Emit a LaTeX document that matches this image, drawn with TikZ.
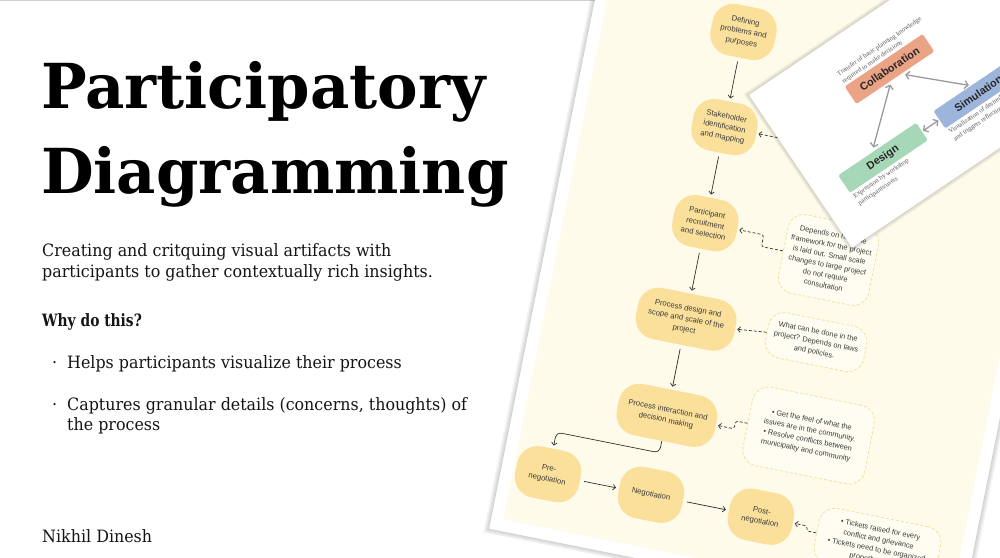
\documentclass[tikz,border=0pt]{standalone}
\usepackage{fontspec}
\setmainfont{DejaVu Serif}
\newfontfamily\dsf{Liberation Sans}
\newfontfamily\dserif{Liberation Serif}
\usetikzlibrary{arrows.meta}
\definecolor{nodey}{HTML}{FBE09B}
\definecolor{cream}{HTML}{FEFBEA}
\definecolor{notef}{HTML}{FFFDF1}
\definecolor{noteb}{HTML}{EDE3A2}
\definecolor{dtext}{HTML}{3A3A3A}
\definecolor{arrowc}{HTML}{2E2E2E}
\definecolor{collabc}{HTML}{EBA386}
\definecolor{simc}{HTML}{9DB5DA}
\definecolor{designc}{HTML}{A6D7B6}
\definecolor{grayarrow}{HTML}{9B9B9B}
\definecolor{desctext}{HTML}{555555}
\definecolor{slidetext}{HTML}{151515}
\tikzset{
  slidetxt/.style={anchor=base west, inner sep=0pt, text=slidetext},
  bodytxt/.style={slidetxt, font=\fontsize{17}{20}\selectfont, xscale=0.935},
  titletxt/.style={slidetxt, text=black, font=\bfseries\fontsize{62}{62}\selectfont, xscale=0.98},
  stepnode/.style={fill=nodey, rounded corners=21pt, minimum width=65pt, minimum height=52pt,
    inner sep=2pt, align=center, text=dtext, font=\dsf\fontsize{7.7}{10.6}\selectfont},
  widenode/.style={stepnode, minimum width=100pt},
  notebox/.style={draw=noteb, fill=notef, dash pattern=on 3pt off 2pt, line width=0.8pt,
    rounded corners=16pt, inner sep=2pt, align=center, text=dtext, font=\dsf\fontsize{7.4}{10.3}\selectfont},
  flow/.style={draw=arrowc, line width=0.7pt, shorten <=4pt, shorten >=3pt,
    -{Straight Barb[length=2.6pt,width=5.5pt]}},
  dflow/.style={flow, shorten <=0pt, shorten >=2pt, dash pattern=on 3pt off 2pt, rounded corners=2.5pt},
  cardbox/.style={minimum width=94pt, minimum height=21pt, inner sep=0pt, rounded corners=1.5pt,
    font=\dsf\bfseries\fontsize{10.8}{11}\selectfont},
  desc/.style={inner sep=0pt, align=left, text=desctext, font=\dserif\fontsize{6.6}{8.8}\selectfont},
  garrow/.style={draw=grayarrow, line width=1.3pt,
    {Straight Barb[length=3.4pt,width=8pt]}-{Straight Barb[length=3.4pt,width=8pt]}},
}
\begin{document}
\begin{tikzpicture}[x=1pt,y=-1pt]
\useasboundingbox (0,0) rectangle (1000,557);
\clip (0,0) rectangle (1000,557);
\fill[white] (0,0) rectangle (1000,557);
\draw[black!18, line width=1.2pt] (0,0.8) -- (1000,0.8);

% ---------- slide text ----------
\node[titletxt] (title1) at (41,108) {Participatory};
\node[titletxt] (title2) at (41,193) {Diagramming};
\node[bodytxt] (sub1) at (42,256) {Creating and critquing visual artifacts with};
\node[bodytxt] (sub2) at (42,277) {participants to gather contextually rich insights.};
\node[bodytxt, font=\bfseries\fontsize{17}{20}\selectfont, xscale=0.87] (why) at (42,326) {Why do this?};
\node[bodytxt] (dot1) at (52,368) {·};
\node[bodytxt] (b1) at (67,368) {Helps participants visualize their process};
\node[bodytxt] (dot2) at (52,410) {·};
\node[bodytxt] (b2a) at (67,410) {Captures granular details (concerns, thoughts) of};
\node[bodytxt] (b2b) at (67,430) {the process};
\node[bodytxt] (author) at (42,542) {Nikhil Dinesh};

% ---------- main flowchart card ----------
\begin{scope}[shift={(750,280)}, rotate=-11.3, transform shape]
  \foreach \i in {1,...,5} {
    \fill[black, opacity=0.035] (-207-\i,-340-\i) rectangle (272+\i,295+\i);
  }
  \fill[white] (-207,-340) rectangle (272,295);
  \fill[cream] (-195,-330) rectangle (260,283);

  \node[stepnode] (n1) at (-55,-242) {Defining\\problems and\\purposes};
  \node[stepnode] (n2) at (-55,-145) {Stakeholder\\identification\\and mapping};
  \node[stepnode] (n3) at (-55,-47) {Participant\\recruitment\\and selection};
  \node[widenode] (n4) at (-55,51) {Process design and\\scope and scale of the\\project};
  \node[widenode] (n5) at (-55,149) {Process interaction and\\decision making};
  \node[stepnode] (n6) at (-160,230) {Pre-\\negotiation};
  \node[stepnode] (n7) at (-55,230) {Negotiation};
  \node[stepnode] (n8) at (57,230) {Post-\\negotiation};

  \node[notebox, minimum width=92pt, minimum height=80pt] (nb) at (73,-35)
    {Depends on how the\\framework for the project\\is laid out. Small scale\\changes to large project\\do not require\\consultation};
  \node[notebox, minimum width=100pt, minimum height=46pt] (nc) at (77,48)
    {What can be done in the\\project? Depends on laws\\and policies.};
  \node[notebox, minimum width=124pt, minimum height=80pt] (nd) at (88,141)
    {\textbullet\ Get the feel of what the\\issues are in the community.\\\textbullet\ Resolve conflicts between\\municipality and community};
  \node[notebox, minimum width=124pt, minimum height=56pt] (ne) at (177,235)
    {\textbullet\ Tickets raised for every\\conflict and grievance\\\textbullet\ Tickets need to be organized\\properly so that};
  \coordinate (na) at (14,-145);

  \draw[flow] (n1) -- (n2);
  \draw[flow] (n2) -- (n3);
  \draw[flow] (n3) -- (n4);
  \draw[flow] (n4) -- (n5);
  \draw[flow, shorten <=0pt, rounded corners=5pt] (n5.south) -- ++(0,12) -- ++(-105,0) -- (n6.north);
  \draw[flow] (n6) -- (n7);
  \draw[flow] (n7) -- (n8);

  \draw[dflow] (na) -- (n2.east);
  \draw[dflow] (nb.west) -- ++(-22,0) -- ++(0,-12) -- (n3.east);
  \draw[dflow] (nc.west) -- (n4.east);
  \draw[dflow] (nd.west) -- ++(-12,0) -- ++(0,8) -- (n5.east);
  \draw[dflow] (ne.west) -- ++(-10,0) -- ++(0,-5) -- (n8.east);
\end{scope}

% ---------- overlay card ----------
\begin{scope}[shift={(749,95)}, rotate=34, transform shape]
  \foreach \i in {1,...,4} {
    \fill[black, opacity=0.04] (-\i,-\i) rectangle (420+\i,184+\i);
  }
  \fill[white] (0,0) rectangle (420,184);
  \node[cardbox, fill=collabc, text=black!85] (collab) at (131,57) {Collaboration};
  \node[cardbox, fill=designc, text=black!85] (design) at (76,127) {Design};
  \node[cardbox, fill=simc, text=black!85] (sim) at (191,127) {Simulation};
  \node[desc, anchor=south west] (tdesc) at (85,45) {Transfer of basic planning knowledge\\required to make decisions};
  \node[desc, anchor=north west] (ddesc) at (30,140) {Expression by workshop\\participants/users};
  \node[desc, anchor=north west] (sdesc) at (145,140) {Visualization of desired\\and triggers reflection};
  \draw[garrow, shorten <=4pt, shorten >=2pt] (collab.-57) -- (sim.100);
  \draw[garrow, shorten <=4pt, shorten >=5pt] (collab.-115) -- (design.120);
  \draw[garrow, shorten <=1pt, shorten >=1pt] (design.east) -- (sim.west);
\end{scope}
\end{tikzpicture}
\end{document}
